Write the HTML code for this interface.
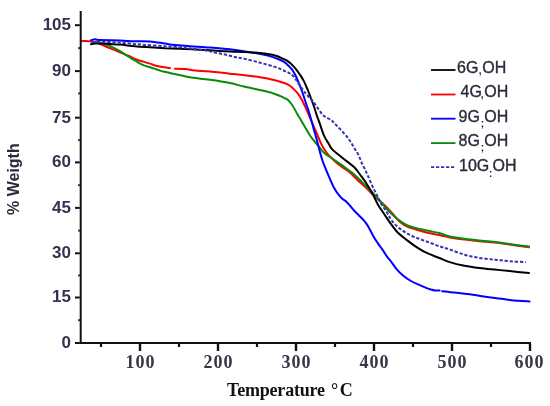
<!DOCTYPE html>
<html><head><meta charset="utf-8"><style>
html,body{margin:0;padding:0;background:#fff;}
body{width:550px;height:406px;overflow:hidden;position:relative;}
svg{position:absolute;left:0;top:0;}
.yl{font-family:"Liberation Sans",Arial,sans-serif;font-weight:bold;font-size:17px;fill:#33334f;text-anchor:end;}
.xl{font-family:"Liberation Serif","Times New Roman",serif;font-weight:bold;font-size:18px;fill:#363646;text-anchor:middle;letter-spacing:1px;}
.lg{font-family:"Liberation Sans",Arial,sans-serif;font-size:16px;fill:#2a2a3a;stroke:#2a2a3a;stroke-width:0.35px;}
.sub{font-family:"Liberation Sans",Arial,sans-serif;font-weight:bold;font-size:10px;fill:#2a2a3a;}
.tx{font-family:"Liberation Serif","Times New Roman",serif;font-weight:bold;font-size:18px;fill:#111;}
.ty{font-family:"Liberation Sans",Arial,sans-serif;font-weight:bold;font-size:16px;fill:#2a2a3a;}
</style></head><body>
<svg width="550" height="406" viewBox="0 0 550 406">
<g fill="none" stroke-width="2" stroke-linejoin="round" stroke-linecap="round">
<path d="M82.0,41.0 C83.5,41.1 88.9,41.2 91.0,41.4 C93.1,41.6 93.2,41.8 94.5,42.1 C95.8,42.5 97.5,43.0 99.0,43.5 C100.5,44.0 101.6,44.7 103.3,45.4 C105.0,46.1 106.8,47.0 109.0,47.9 C111.2,48.8 114.2,49.9 116.4,50.8 C118.6,51.7 119.9,52.3 122.0,53.2 C124.1,54.1 126.5,54.9 129.0,56.0 C131.5,57.1 133.5,58.5 137.0,59.8 C140.5,61.1 147.0,62.6 150.0,63.6 C153.0,64.5 152.9,64.9 155.0,65.5 C157.1,66.1 159.8,66.6 162.3,67.0 C164.8,67.4 168.6,67.9 169.9,68.1 M175.0,68.8 C176.8,68.8 182.2,68.8 185.5,69.1 C188.8,69.4 190.9,70.0 195.0,70.4 C199.1,70.8 204.2,71.0 210.0,71.5 C215.8,72.0 224.2,73.1 230.0,73.7 C235.8,74.3 240.0,74.7 245.0,75.3 C250.0,75.9 255.0,76.4 260.0,77.2 C265.0,78.0 270.8,79.2 275.0,80.2 C279.2,81.2 282.5,82.4 285.0,83.3 C287.5,84.2 288.3,84.7 289.9,85.8 C291.5,86.9 293.4,88.7 294.8,90.1 C296.2,91.5 297.3,92.7 298.5,94.4 C299.7,96.1 301.0,98.3 302.2,100.5 C303.4,102.7 304.3,104.8 305.5,107.4 C306.7,110.0 307.9,112.9 309.2,116.0 C310.5,119.1 312.2,122.7 313.5,125.8 C314.8,128.9 316.1,131.8 317.2,134.5 C318.3,137.2 319.3,139.6 320.3,141.8 C321.3,144.0 322.2,145.8 323.4,147.8 C324.6,149.8 325.4,151.4 327.5,153.8 C329.6,156.2 333.6,160.0 336.0,162.2 C338.4,164.4 339.9,165.4 342.2,167.1 C344.5,168.8 347.2,170.2 349.6,172.3 C352.1,174.4 354.4,177.1 356.9,179.4 C359.3,181.7 361.8,183.6 364.3,186.0 C366.9,188.4 369.7,191.5 372.2,194.0 C374.7,196.5 377.1,198.6 379.5,200.8 C381.9,203.0 384.6,205.2 386.9,207.4 C389.2,209.7 391.2,212.0 393.3,214.3 C395.4,216.6 397.0,219.3 399.2,221.3 C401.4,223.3 403.7,225.0 406.6,226.4 C409.6,227.8 413.4,228.7 416.9,229.8 C420.3,230.9 423.4,231.9 427.3,232.8 C431.2,233.7 436.2,234.4 440.0,235.2 C443.8,236.0 445.7,236.7 449.8,237.4 C453.9,238.1 459.6,239.0 464.5,239.6 C469.4,240.2 474.2,240.7 479.3,241.2 C484.4,241.7 489.8,242.0 494.8,242.6 C499.8,243.2 503.8,243.8 509.5,244.6 C515.2,245.4 525.8,246.9 529.0,247.3" stroke="#f00"/>
<path d="M95.3,41.7 C96.4,42.0 99.8,42.7 101.8,43.2 C103.8,43.8 105.8,44.3 107.6,45.0 C109.4,45.7 110.6,46.4 112.7,47.4 C114.8,48.4 117.5,49.8 120.0,51.2 C122.5,52.6 124.9,54.5 127.4,56.0 C129.9,57.5 132.3,59.1 134.8,60.5 C137.3,61.9 139.7,63.5 142.2,64.6 C144.7,65.7 147.9,66.6 150.0,67.3 C152.1,68.0 153.3,68.4 155.0,68.9 C156.7,69.5 158.3,70.1 160.0,70.6 C161.7,71.1 163.3,71.4 165.0,71.8 C166.7,72.2 168.0,72.5 170.0,73.0 C172.0,73.5 174.7,74.1 177.0,74.6 C179.3,75.1 181.6,75.6 184.0,76.1 C186.4,76.6 187.1,76.9 191.4,77.5 C195.7,78.1 203.6,78.9 210.0,79.8 C216.4,80.7 224.2,81.9 230.0,83.1 C235.8,84.3 239.6,85.6 245.0,86.8 C250.4,88.0 258.2,89.5 262.3,90.4 C266.4,91.3 268.0,91.8 269.5,92.2 C271.0,92.6 271.1,92.6 271.4,92.7 M272.8,93.2 C274.1,93.7 278.5,95.3 280.5,96.2 C282.5,97.1 283.8,97.8 285.0,98.4 C286.2,99.0 286.5,98.7 287.7,99.8 C288.9,100.9 290.4,102.5 292.0,104.8 C293.6,107.1 295.7,111.3 297.0,113.6 C298.3,115.9 298.7,116.4 300.0,118.6 C301.3,120.8 303.3,124.1 305.0,126.9 C306.7,129.7 308.3,133.0 310.0,135.5 C311.7,138.0 313.3,139.9 315.0,142.0 C316.7,144.1 318.4,146.1 320.0,148.0 C321.6,149.9 322.8,151.8 324.9,153.5 C326.9,155.2 329.8,156.8 332.3,158.5 C334.8,160.2 337.2,161.8 339.7,163.6 C342.2,165.3 344.6,167.2 347.1,169.0 C349.6,170.8 352.0,172.5 354.5,174.7 C357.0,176.8 359.4,179.4 361.9,181.9 C364.4,184.4 366.4,186.4 369.3,189.5 C372.2,192.6 376.6,196.9 379.5,200.2 C382.4,203.4 384.4,206.3 386.9,209.0 C389.4,211.7 392.0,214.3 394.5,216.5 C397.0,218.7 399.5,220.7 402.0,222.3 C404.5,223.9 406.3,225.0 409.5,226.2 C412.7,227.4 417.7,228.4 421.4,229.3 C425.1,230.2 428.6,230.9 431.7,231.6 C434.8,232.2 437.0,232.4 440.0,233.2 C443.0,234.0 445.7,235.5 449.8,236.4 C453.9,237.3 459.6,238.1 464.5,238.8 C469.4,239.5 474.2,240.0 479.3,240.5 C484.4,241.0 489.8,241.4 494.8,242.0 C499.8,242.6 503.8,243.2 509.5,244.0 C515.2,244.8 525.8,246.2 529.0,246.6" stroke="#0a8a0a"/>
<path d="M91.0,40.3 C91.7,40.1 93.7,39.4 95.0,39.3 C96.3,39.2 94.8,39.7 99.0,39.9 C103.2,40.1 114.0,40.4 120.0,40.6 C126.0,40.8 130.0,41.1 135.0,41.2 C140.0,41.3 145.0,41.0 150.0,41.4 C155.0,41.8 160.8,43.0 165.0,43.6 C169.2,44.2 170.8,44.6 175.0,45.0 C179.2,45.4 184.2,45.8 190.0,46.2 C195.8,46.6 203.3,47.0 210.0,47.5 C216.7,48.0 224.2,48.6 230.0,49.3 C235.8,50.0 240.5,50.8 245.0,51.5 C249.5,52.2 253.0,52.6 256.8,53.3 C260.6,54.0 264.1,54.5 267.7,55.5 C271.3,56.5 275.9,58.2 278.6,59.3 C281.3,60.4 282.6,61.1 284.0,61.9 C285.4,62.7 286.0,63.4 287.0,64.3 C288.0,65.2 288.9,66.0 289.9,67.1 C290.9,68.2 291.9,69.3 292.9,70.8 C293.9,72.3 294.9,74.3 295.8,76.0 C296.7,77.7 297.2,79.3 298.0,81.1 C298.8,82.9 299.5,84.6 300.4,87.0 C301.3,89.4 302.6,92.9 303.5,95.6 C304.4,98.3 305.2,101.0 305.9,103.0 C306.5,105.0 306.6,105.0 307.4,107.4 C308.2,109.8 309.5,113.7 310.5,117.2 C311.5,120.7 312.6,125.0 313.5,128.3 C314.4,131.6 315.2,133.9 316.0,136.9 C316.8,139.9 317.8,143.5 318.5,146.3 C319.2,149.2 319.8,151.4 320.5,154.0 C321.2,156.6 321.7,158.5 322.9,161.8 C324.1,165.1 326.0,169.6 327.8,173.8 C329.6,178.0 331.6,183.3 333.7,187.2 C335.8,191.1 338.6,194.9 340.6,197.2 C342.6,199.5 344.3,199.7 345.9,201.2 C347.5,202.7 348.8,204.3 350.3,206.0 C351.8,207.7 353.3,209.7 354.8,211.3 C356.3,212.9 357.7,214.2 359.2,215.7 C360.7,217.2 362.3,218.7 363.6,220.2 C364.9,221.7 366.2,223.4 367.2,224.8 C368.2,226.2 368.7,227.5 369.4,228.8 C370.1,230.1 370.9,231.5 371.6,232.8 C372.3,234.1 372.7,235.1 373.5,236.5 C374.3,237.9 375.5,239.8 376.5,241.3 C377.5,242.8 378.5,244.1 379.4,245.4 C380.3,246.7 381.1,247.7 381.9,248.9 C382.7,250.1 383.7,251.5 384.4,252.6 C385.1,253.7 385.6,254.6 386.3,255.6 C387.0,256.6 387.7,257.6 388.5,258.5 C389.3,259.4 389.5,259.5 390.9,261.3 C392.3,263.1 394.8,267.1 396.8,269.4 C398.8,271.7 400.5,273.4 402.7,275.3 C404.9,277.2 407.6,279.0 410.1,280.5 C412.6,282.0 414.6,282.9 417.5,284.2 C420.4,285.5 425.1,287.5 427.3,288.4 C429.5,289.3 429.7,289.2 430.9,289.5 C432.1,289.8 433.1,290.2 434.5,290.4 C435.9,290.6 438.8,290.6 439.6,290.6 M442.2,291.2 C443.4,291.3 447.1,291.8 449.1,292.0 C451.2,292.2 451.9,292.3 454.5,292.6 C457.1,292.9 461.7,293.4 465.0,293.8 C468.3,294.2 470.5,294.4 474.5,295.0 C478.5,295.6 484.2,296.6 489.1,297.3 C494.0,298.0 498.8,298.5 503.6,299.1 C508.5,299.7 513.9,300.4 518.2,300.8 C522.5,301.2 527.6,301.3 529.5,301.4" stroke="#00f"/>
<path d="M91.0,44.2 C91.7,44.1 93.2,43.7 95.0,43.6 C96.8,43.5 99.5,43.4 102.0,43.5 C104.5,43.6 107.0,43.8 110.0,44.0 C113.0,44.2 115.8,44.2 120.0,44.6 C124.2,45.0 130.0,45.8 135.0,46.3 C140.0,46.8 145.0,47.0 150.0,47.3 C155.0,47.6 160.0,48.0 165.0,48.3 C170.0,48.5 175.0,48.6 180.0,48.8 C185.0,49.0 190.0,49.2 195.0,49.5 C200.0,49.8 204.2,50.0 210.0,50.3 C215.8,50.6 224.2,51.2 230.0,51.5 C235.8,51.8 240.0,51.8 245.0,52.1 C250.0,52.4 255.0,52.5 260.0,53.1 C265.0,53.7 271.0,54.5 275.0,55.5 C279.0,56.5 281.9,58.3 284.0,59.2 C286.1,60.1 286.5,60.3 287.7,61.1 C288.9,61.9 290.2,62.9 291.4,64.1 C292.6,65.3 293.9,66.7 295.1,68.2 C296.3,69.7 297.7,71.5 298.8,73.0 C299.9,74.5 300.8,76.0 301.7,77.4 C302.6,78.8 303.2,79.9 304.0,81.4 C304.8,82.9 305.5,84.7 306.3,86.5 C307.1,88.3 307.8,90.0 308.6,92.0 C309.4,94.0 310.1,96.2 311.0,98.5 C311.9,100.8 312.9,103.3 313.8,106.0 C314.7,108.7 315.6,111.9 316.6,114.8 C317.6,117.7 318.8,120.7 319.7,123.4 C320.6,126.1 321.4,128.6 322.2,130.8 C323.0,133.1 323.6,134.9 324.6,136.9 C325.6,138.9 327.1,141.1 328.3,143.1 C329.5,145.1 330.1,147.1 332.0,149.2 C333.9,151.3 337.0,153.5 339.5,155.5 C342.0,157.5 344.4,159.4 346.9,161.4 C349.4,163.4 352.1,165.1 354.3,167.3 C356.5,169.5 358.2,172.2 360.0,174.5 C361.8,176.8 363.0,178.1 365.0,181.2 C367.0,184.3 370.0,189.1 372.2,193.1 C374.4,197.1 376.1,201.5 378.1,204.9 C380.1,208.3 382.0,210.8 384.0,213.7 C386.0,216.6 387.7,219.5 390.0,222.6 C392.3,225.7 394.9,229.6 397.7,232.5 C400.5,235.4 403.4,237.4 406.6,239.9 C409.8,242.4 413.4,245.1 416.9,247.3 C420.3,249.5 423.4,251.4 427.3,253.2 C431.2,255.0 436.2,256.8 440.0,258.3 C443.8,259.8 445.7,260.9 449.8,262.1 C453.9,263.4 459.6,264.8 464.5,265.8 C469.4,266.8 474.2,267.4 479.3,268.0 C484.4,268.6 489.8,269.1 494.8,269.6 C499.8,270.1 503.8,270.5 509.5,271.1 C515.2,271.7 525.8,272.7 529.0,273.0" stroke="#000"/>
<path d="M92.0,42.0 C93.6,42.0 97.7,42.1 101.8,42.1 C105.9,42.1 111.7,42.0 116.4,42.3 C121.1,42.5 125.2,43.2 130.0,43.6 C134.8,44.0 139.2,44.5 145.0,44.9 C150.8,45.3 159.2,45.9 165.0,46.3 C170.8,46.7 175.8,46.9 180.0,47.3 C184.2,47.7 185.8,48.0 190.0,48.5 C194.2,49.0 200.8,49.6 205.0,50.3 C209.2,51.0 211.7,51.9 215.0,52.6 C218.3,53.3 221.7,53.8 225.0,54.5 C228.3,55.2 231.7,56.3 235.0,57.0 C238.3,57.7 240.8,57.9 245.0,58.9 C249.2,59.9 255.0,61.4 260.0,62.7 C265.0,64.0 270.8,65.5 275.0,66.9 C279.2,68.3 282.5,70.1 285.0,71.2 C287.5,72.3 288.5,72.6 289.9,73.5 C291.3,74.4 292.4,75.2 293.6,76.5 C294.8,77.8 295.4,78.8 297.0,81.2 C298.6,83.6 301.7,88.2 303.5,90.7 C305.3,93.2 306.3,94.1 308.0,96.0 C309.7,97.9 311.8,99.8 313.5,102.0 C315.2,104.2 316.8,106.9 318.5,109.2 C320.2,111.5 321.9,114.2 324.0,116.0 C326.1,117.8 329.2,118.7 331.4,120.3 C333.5,121.9 334.8,123.6 336.9,125.8 C339.0,128.0 341.8,130.8 344.0,133.3 C346.2,135.8 348.2,138.2 349.9,140.7 C351.6,143.2 352.8,145.6 354.3,148.1 C355.8,150.6 357.5,153.1 358.7,155.5 C359.9,157.9 360.7,160.6 361.7,162.8 C362.7,165.0 363.7,166.6 364.7,168.7 C365.7,170.8 366.4,172.5 367.7,175.3 C368.9,178.1 370.7,182.5 372.2,185.7 C373.7,188.9 375.1,191.6 376.6,194.5 C378.1,197.4 379.3,200.4 381.0,203.4 C382.7,206.4 385.1,209.4 386.9,212.3 C388.7,215.2 389.8,218.1 391.8,220.7 C393.9,223.3 396.2,225.8 399.2,228.1 C402.1,230.4 406.1,232.9 409.5,234.7 C412.9,236.5 416.4,237.8 419.9,239.1 C423.3,240.4 426.8,241.6 430.2,242.8 C433.6,244.0 436.7,245.4 440.0,246.5 C443.3,247.6 445.7,248.1 449.8,249.5 C453.9,250.9 459.6,253.3 464.5,254.7 C469.4,256.1 474.2,257.1 479.3,257.9 C484.4,258.7 489.8,259.1 494.8,259.7 C499.8,260.2 504.3,260.8 509.5,261.2 C514.7,261.6 523.2,262.0 526.0,262.2" stroke="#3434b0" stroke-dasharray="3.3,1.8" stroke-linecap="butt"/>
</g>
<rect x="79.7" y="11" width="2" height="333" fill="#111"/>
<rect x="79.7" y="342" width="451.3" height="2" fill="#111"/>
<rect x="75" y="342.0" width="4.8" height="2" fill="#111"/>
<rect x="75" y="296.5" width="4.8" height="2" fill="#111"/>
<rect x="75" y="252.3" width="4.8" height="2" fill="#111"/>
<rect x="75" y="206.9" width="4.8" height="2" fill="#111"/>
<rect x="75" y="161.4" width="4.8" height="2" fill="#111"/>
<rect x="75" y="116.7" width="4.8" height="2" fill="#111"/>
<rect x="75" y="70.1" width="4.8" height="2" fill="#111"/>
<rect x="75" y="24.2" width="4.8" height="2" fill="#111"/>
<rect x="78.2" y="319.2" width="1.6" height="2" fill="#111"/>
<rect x="78.2" y="274.4" width="1.6" height="2" fill="#111"/>
<rect x="78.2" y="229.6" width="1.6" height="2" fill="#111"/>
<rect x="78.2" y="184.2" width="1.6" height="2" fill="#111"/>
<rect x="78.2" y="139.1" width="1.6" height="2" fill="#111"/>
<rect x="78.2" y="92.4" width="1.6" height="2" fill="#111"/>
<rect x="78.2" y="47.1" width="1.6" height="2" fill="#111"/>
<rect x="138.8" y="344" width="2.4" height="7" fill="#111"/>
<rect x="216.8" y="344" width="2.4" height="7" fill="#111"/>
<rect x="294.8" y="344" width="2.4" height="7" fill="#111"/>
<rect x="372.8" y="344" width="2.4" height="7" fill="#111"/>
<rect x="450.8" y="344" width="2.4" height="7" fill="#111"/>
<rect x="528.8" y="344" width="2.4" height="7" fill="#111"/>
<rect x="99.9" y="344" width="2.2" height="3" fill="#111"/>
<rect x="177.9" y="344" width="2.2" height="3" fill="#111"/>
<rect x="255.9" y="344" width="2.2" height="3" fill="#111"/>
<rect x="333.9" y="344" width="2.2" height="3" fill="#111"/>
<rect x="411.9" y="344" width="2.2" height="3" fill="#111"/>
<rect x="489.9" y="344" width="2.2" height="3" fill="#111"/>
<text x="71" y="347.9" class="yl">0</text>
<text x="71" y="302.4" class="yl">15</text>
<text x="71" y="258.2" class="yl">30</text>
<text x="71" y="212.8" class="yl">45</text>
<text x="71" y="167.3" class="yl">60</text>
<text x="71" y="122.6" class="yl">75</text>
<text x="71" y="76.0" class="yl">90</text>
<text x="71" y="30.1" class="yl">105</text>
<text x="140.5" y="368" class="xl">100</text>
<text x="218.5" y="368" class="xl">200</text>
<text x="296.5" y="368" class="xl">300</text>
<text x="374.5" y="368" class="xl">400</text>
<text x="452.5" y="368" class="xl">500</text>
<text x="529.5" y="368" class="xl">600</text>
<line x1="431" y1="70.0" x2="455.5" y2="70.0" stroke="#000" stroke-width="1.8"/>
<text x="457.0" y="72.6" class="lg">6G</text><text x="478.8" y="74.1" class="sub">,</text><text x="482.2" y="72.6" class="lg">OH</text>
<line x1="431" y1="94.5" x2="455.5" y2="94.5" stroke="#f00" stroke-width="1.8"/>
<text x="460.5" y="96.8" class="lg">4G</text><text x="480.8" y="98.3" class="sub">,</text><text x="484.2" y="96.8" class="lg">OH</text>
<line x1="431" y1="118.7" x2="455.5" y2="118.7" stroke="#00f" stroke-width="1.8"/>
<text x="458.5" y="121.6" class="lg">9G</text><text x="480.8" y="127.1" class="sub">;</text><text x="484.2" y="121.6" class="lg">OH</text>
<line x1="431" y1="143.1" x2="455.5" y2="143.1" stroke="#0a8a0a" stroke-width="1.8"/>
<text x="458.5" y="145.6" class="lg">8G</text><text x="480.8" y="151.1" class="sub">;</text><text x="484.2" y="145.6" class="lg">OH</text>
<line x1="431" y1="167.1" x2="455.5" y2="167.1" stroke="#3434b0" stroke-width="1.8" stroke-dasharray="3.2,1.8"/>
<text x="459.0" y="171.2" class="lg">10G</text><text x="489.1" y="176.7" class="sub">:</text><text x="492.5" y="171.2" class="lg">OH</text>
<text x="227" y="395.7" class="tx" letter-spacing="-0.2">Temperature</text><text x="331" y="396" class="tx">°<tspan dx="1.5">C</tspan></text>
<text transform="translate(19,215) rotate(-90)" class="ty">% Weigth</text>
</svg>
</body></html>
